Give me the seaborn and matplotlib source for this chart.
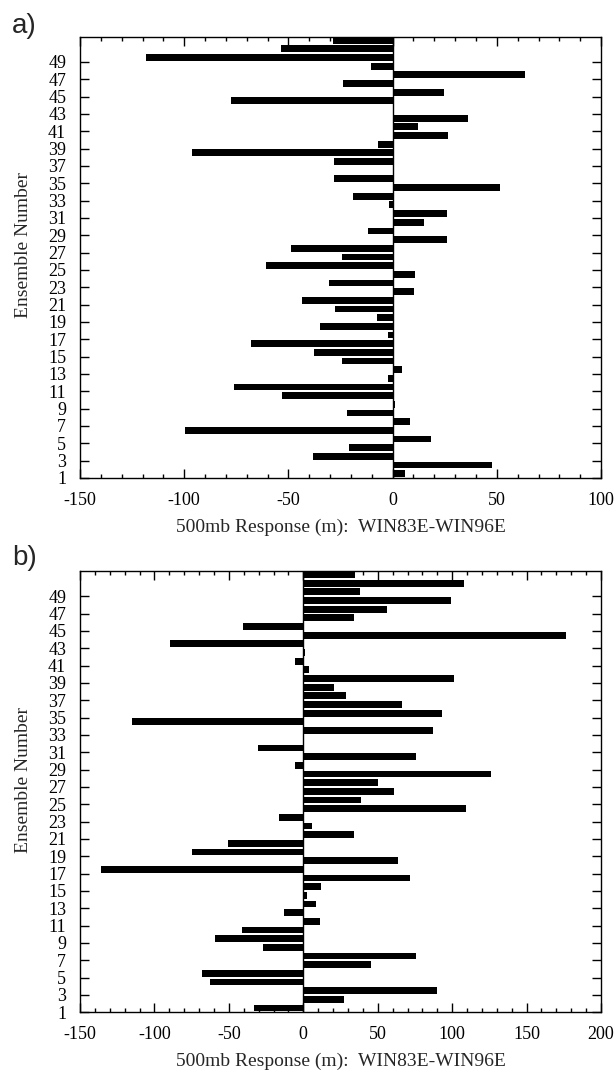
import numpy as np
import pandas as pd
import seaborn as sns
import matplotlib
import matplotlib.pyplot as plt
from matplotlib.ticker import MultipleLocator

matplotlib.use("Agg")

# ensemble members, bottom (1) to top (51)
ensemble = list(range(1, 52))

# panel a) 500mb response (m), ensemble 1..51
resp_a = [6.1, 47.9, -38.1, -20.8, 18.5, -99.8, 8.4, -21.9, 1.0, -53.3,
          -76.3, -2.0, 4.4, -24.3, -37.5, -67.8, -2.3, -34.9, -7.6, -27.5,
          -43.5, 10.4, -30.4, 10.8, -60.6, -24.3, -48.8, 25.9, -11.6, 15.2,
          26.1, -1.6, -19.2, 51.6, -28.1, 0.5, -28.1, -96.2, -7.0, 26.6,
          12.3, 36.2, 0.0, -77.4, 24.6, -23.8, 63.3, -10.4, -118.4, -53.7,
          -28.5]

# panel b) 500mb response (m), ensemble 1..51
resp_b = [-33.3, 27.2, 89.9, -62.6, -67.9, 45.4, 75.7, -26.8, -59.2, -41.0,
          11.4, -13.1, 8.2, 2.2, 11.9, 72.0, -135.8, 63.8, -75.0, -50.5,
          34.3, 6.1, -16.0, 109.6, 39.0, 61.2, 50.2, 126.2, -5.7, 75.9,
          -30.5, 0.4, 87.0, -115.2, 93.3, 66.4, 29.0, 20.6, 101.2, 4.0,
          -5.7, 0.9, -89.4, 176.2, -40.5, 34.0, 56.4, 99.1, 38.0, 108.0,
          34.8]

ytick_nums = list(range(1, 50, 2))
xticks_a = [-150, -100, -50, 0, 50, 100]
xticks_b = [-150, -100, -50, 0, 50, 100, 150, 200]
xlabel = "500mb Response (m):  WIN83E-WIN96E"
ylabel = "Ensemble Number"

sns.set_style("ticks")
plt.rcParams["font.family"] = ["Liberation Serif", "DejaVu Serif"]

fig = plt.figure(figsize=(6.16, 10.76), dpi=100)
ax_a = fig.add_axes([0.1299, 0.5558, 0.8458, 0.4101])
ax_b = fig.add_axes([0.1299, 0.0592, 0.8458, 0.4101])


def draw_panel(ax, resp, xticks):
    df = pd.DataFrame({"ens": ensemble, "resp": resp})
    sns.barplot(data=df, x="resp", y="ens", orient="h", native_scale=True,
                color="black", saturation=1, width=0.78, linewidth=0,
                errorbar=None, ax=ax)
    ax.axvline(0, color="black", lw=1.0, zorder=3)
    ax.set_xlim(xticks[0], xticks[-1])
    ax.set_ylim(0.5, 51.4)
    ax.set_xticks(xticks)
    ax.set_xticklabels([str(t) for t in xticks])
    ax.xaxis.set_minor_locator(MultipleLocator(10))
    # tick k sits just below bar k
    ax.set_yticks([k - 0.5 for k in ytick_nums])
    ax.set_yticklabels([str(k) for k in ytick_nums])
    ax.tick_params(axis="both", which="both", direction="in",
                   top=True, right=True, width=1.0, colors="black",
                   labelsize=13)
    ax.tick_params(axis="both", which="major", length=6.5, pad=10)
    ax.tick_params(axis="x", which="minor", length=3)
    for sp in ax.spines.values():
        sp.set_visible(True)
        sp.set_linewidth(1.0)
        sp.set_color("black")
    ax.set_xlabel(xlabel, fontsize=14)
    ax.set_ylabel(ylabel, fontsize=14)
    ax.xaxis.set_label_coords(0.5, -0.092)
    ax.yaxis.set_label_coords(-0.092, 0.527)


draw_panel(ax_a, resp_a, xticks_a)
draw_panel(ax_b, resp_b, xticks_b)

fig.text(12 / 616, 1 - 33 / 1076, "a)", fontsize=20,
         family=["Liberation Sans", "DejaVu Sans"], va="baseline")
fig.text(12 / 616, 1 - 565 / 1076, "b)", fontsize=20,
         family=["Liberation Sans", "DejaVu Sans"], va="baseline")

fig.savefig("out.png", dpi=100)
